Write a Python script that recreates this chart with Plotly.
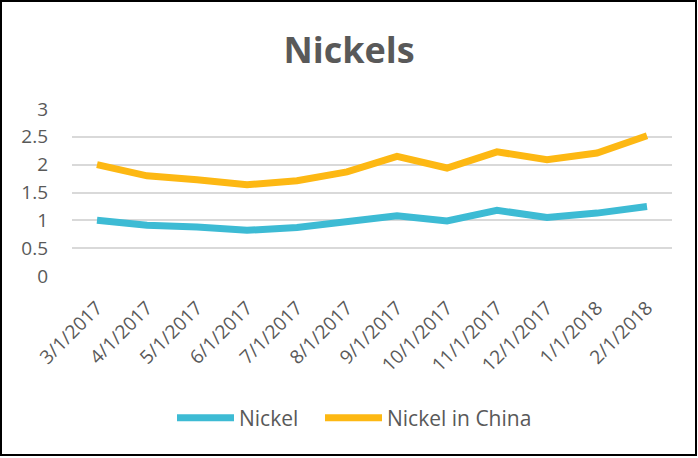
import plotly.graph_objects as go

categories = ["3/1/2017", "4/1/2017", "5/1/2017", "6/1/2017", "7/1/2017", "8/1/2017",
              "9/1/2017", "10/1/2017", "11/1/2017", "12/1/2017", "1/1/2018", "2/1/2018"]
nickel = [1.00, 0.91, 0.88, 0.82, 0.87, 0.96, 1.08, 0.99, 1.18, 1.05, 1.13, 1.25]
nickel_china = [2.00, 1.80, 1.73, 1.64, 1.71, 1.87, 2.15, 1.94, 2.23, 2.09, 2.21, 2.52]
y_ticks = [0, 0.5, 1, 1.5, 2, 2.5, 3]

W, H = 698, 458
ML, MR, MT, MB = 72, 26, 109, 182
TXT = "#595959"
FONT = "Open Sans"

fig = go.Figure()
fig.add_trace(go.Scatter(x=categories, y=nickel, name="Nickel", mode="lines",
                         line=dict(color="#3DBBD4", width=7), legend="legend"))
fig.add_trace(go.Scatter(x=categories, y=nickel_china, name="Nickel in China", mode="lines",
                         line=dict(color="#FDB813", width=7), legend="legend2"))

pw = W - ML - MR
ph = H - MT - MB
fig.add_shape(type="rect", xref="paper", yref="paper",
              x0=-(ML - 1) / pw, x1=1 + (MR - 2) / pw,
              y0=-(MB - 3) / ph, y1=1 + (MT - 1) / ph,
              line=dict(color="black", width=2), fillcolor="rgba(0,0,0,0)", layer="below")

leg_common = dict(orientation="h", xref="container", xanchor="left",
                  y=1 - 418 / H, yref="container", yanchor="middle",
                  font=dict(size=21, color=TXT), itemwidth=57,
                  bgcolor="rgba(0,0,0,0)")

fig.update_layout(
    width=W, height=H,
    margin=dict(l=ML, r=MR, t=MT, b=MB),
    paper_bgcolor="white", plot_bgcolor="white",
    font=dict(family=FONT, color=TXT),
    title=dict(text="<b>Nickels</b>", x=0.5, xref="container", xanchor="center",
               y=1 - 50 / H, yref="container", yanchor="middle",
               font=dict(size=36, color=TXT, family=FONT)),
    showlegend=True,
    legend=dict(x=172 / W, **leg_common),
    legend2=dict(x=320 / W, **leg_common),
    xaxis=dict(type="category", range=[-0.5, len(categories) - 0.5], tickangle=-45,
               showgrid=False, zeroline=False, showline=False, ticks="",
               tickfont=dict(size=19, color=TXT), ticklabelstandoff=16),
    yaxis=dict(range=[0, 3], tickvals=y_ticks, ticktext=[str(v) for v in y_ticks],
               showgrid=True, gridcolor="#D9D9D9", gridwidth=1.5, zeroline=False,
               showline=False, ticks="", tickfont=dict(size=19, color=TXT),
               ticklabelstandoff=23),
)

fig.write_html("out.html")
